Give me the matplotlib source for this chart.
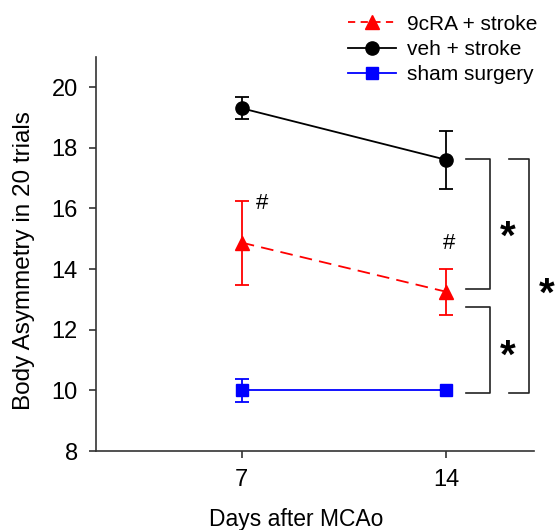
import matplotlib
matplotlib.use("Agg")
import matplotlib.pyplot as plt
from matplotlib.lines import Line2D

plt.rcParams['font.family'] = ['Liberation Sans', 'DejaVu Sans']

# data
days = [7, 14]
cra_mean = [14.87, 13.25]
cra_err = [1.38, 0.76]
veh_mean = [19.3, 17.6]
veh_err = [0.36, 0.95]
sham_mean = [10.0, 10.0]
sham_err = [0.38, 0.0]

labels = ['9cRA + stroke', 'veh + stroke', 'sham surgery']

fig = plt.figure(figsize=(5.55, 5.30), dpi=100)
ax = fig.add_axes([0.1724, 0.149, 0.7897, 0.744])

ax.errorbar(days, cra_mean, yerr=cra_err, color='red', marker='^', markersize=10,
            linestyle=(0, (7, 4)), lw=1.3, capsize=5, capthick=1.3, elinewidth=1.3, zorder=3)
ax.errorbar(days, veh_mean, yerr=veh_err, color='black', marker='o', markersize=9.5,
            lw=1.3, capsize=5, capthick=1.3, elinewidth=1.3, zorder=3)
ax.errorbar(days, sham_mean, yerr=sham_err, color='blue', marker='s', markersize=9,
            lw=1.3, capsize=5, capthick=1.3, elinewidth=1.3, zorder=3)

# significance marks
ax.text(7.69, 16.15, '#', fontsize=16, ha='center', va='center')
ax.text(14.08, 14.85, '#', fontsize=16, ha='center', va='center')

bk = dict(color='#222222', lw=1.2, clip_on=False)
ax.plot([14.66, 15.5, 15.5, 14.66], [17.62, 17.62, 13.34, 13.34], **bk)
ax.plot([14.66, 15.5, 15.5, 14.66], [12.75, 12.75, 9.91, 9.91], **bk)
ax.plot([16.13, 16.84, 16.84, 16.13], [17.62, 17.62, 9.91, 9.91], **bk)
ax.text(16.09, 15.03, '*', fontsize=29, fontweight='bold', ha='center', va='center', clip_on=False)
ax.text(16.09, 11.1, '*', fontsize=29, fontweight='bold', ha='center', va='center', clip_on=False)
ax.text(17.44, 13.15, '*', fontsize=29, fontweight='bold', ha='center', va='center', clip_on=False)

ax.set_xlim(2, 17)
ax.set_ylim(8, 21)
ax.set_xticks(days)
ax.set_yticks(range(8, 21, 2))
ax.spines['top'].set_visible(False)
ax.spines['right'].set_visible(False)
for s in ['left', 'bottom']:
    ax.spines[s].set_linewidth(1.2)
    ax.spines[s].set_color('#333333')
ax.tick_params(labelsize=17, length=5, width=1.2, pad=8, color='#333333')

ax.set_xlabel('Days after MCAo', fontsize=16.5)
ax.set_ylabel('Body Asymmetry in 20 trials', fontsize=17.5)
ax.xaxis.set_label_coords(0.458, -0.145)
ax.yaxis.set_label_coords(-0.138, 0.484)

handles = [
    Line2D([], [], color='red', marker='^', markersize=10, linestyle=(0, (4, 3)), lw=1.3),
    Line2D([], [], color='black', marker='o', markersize=9.5, lw=1.3),
    Line2D([], [], color='blue', marker='s', markersize=9, lw=1.3),
]
fig.legend(handles, labels, loc='upper left', bbox_to_anchor=(0.6, 1.0),
           frameon=False, fontsize=15, handlelength=2.3, handletextpad=0.55,
           labelspacing=0.3, borderpad=0.2)

fig.savefig('out.png', dpi=100)
